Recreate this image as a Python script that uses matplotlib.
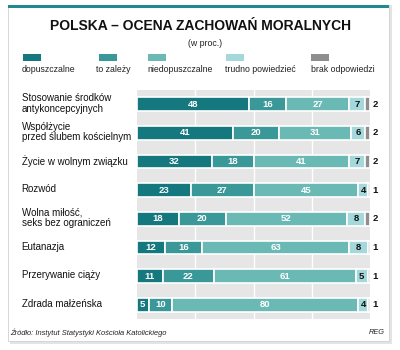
import matplotlib
matplotlib.use("Agg")
import matplotlib.pyplot as plt
from matplotlib.patches import Rectangle

categories = ["Stosowanie środków\nantykoncepcyjnych",
              "Współżycie\nprzed ślubem kościelnym",
              "Życie w wolnym związku",
              "Rozwód",
              "Wolna miłość,\nseks bez ograniczeń",
              "Eutanazja",
              "Przerywanie ciąży",
              "Zdrada małżeńska"]
series_names = ["dopuszczalne", "to zależy", "niedopuszczalne", "trudno powiedzieć", "brak odpowiedzi"]
dopuszczalne = [48, 41, 32, 23, 18, 12, 11, 5]
to_zalezy = [16, 20, 18, 27, 20, 16, 22, 10]
niedopuszczalne = [27, 31, 41, 45, 52, 63, 61, 80]
trudno = [7, 6, 7, 4, 8, 8, 5, 4]
brak = [2, 2, 2, 1, 2, 1, 1, 1]
series = [dopuszczalne, to_zalezy, niedopuszczalne, trudno, brak]
colors = ["#16787f", "#3a9899", "#6ab9b5", "#a5d8da", "#8e8e8e"]
text_colors = ["white", "white", "white", "#111111", "#111111"]

W, H = 400, 350
plt.rcParams['font.family'] = ["Liberation Sans", "DejaVu Sans"]

fig = plt.figure(figsize=(4, 3.5), dpi=100)
fig.patch.set_facecolor("white")

def fx(x): return x / W
def fy(y): return 1 - y / H

# panel shadow and panel
fig.patches.append(Rectangle((fx(10), fy(344)), fx(382), 339 / H, transform=fig.transFigure,
                             facecolor="#e4e4e4", edgecolor="none", zorder=-2))
fig.patches.append(Rectangle((fx(8), fy(341)), fx(381), 336 / H, transform=fig.transFigure,
                             facecolor="white", edgecolor="#d0d0d0", linewidth=0.6, zorder=-1))
fig.patches.append(Rectangle((fx(8), fy(8)), fx(381), 3 / H, transform=fig.transFigure,
                             facecolor="#1f8a8f", edgecolor="none", zorder=1))

fig.text(fx(200), fy(26), "POLSKA – OCENA ZACHOWAŃ MORALNYCH", ha="center", va="center",
         fontsize=10, fontweight="bold", color="#111111")
fig.text(fx(205), fy(43), "(w proc.)", ha="center", va="center", fontsize=6.3, color="#222222")

# legend
sw_x = [23, 99, 148, 226, 311]
lab_x = [22, 96, 147, 225, 311]
for sx, lx, name, c in zip(sw_x, lab_x, series_names, colors):
    fig.patches.append(Rectangle((fx(sx), fy(61)), fx(18), 7 / H, transform=fig.transFigure,
                                 facecolor=c, edgecolor="none", zorder=2))
    fig.text(fx(lx), fy(69), name, ha="left", va="center", fontsize=6.3, color="#222222")

ax = fig.add_axes([fx(137), fy(319), fx(370 - 137), (319 - 90) / H])
ax.set_zorder(3)
ax.set_facecolor("#e6e6e6")
ax.set_xlim(0, 100)
ax.set_ylim(7.5, -0.5)
for g in [25, 50, 75]:
    ax.axvline(g, color="white", linewidth=1.0, zorder=1)
for s in ax.spines.values():
    s.set_visible(False)
ax.set_xticks([])
ax.set_yticks([])

ypos = list(range(len(categories)))
left = [0] * len(categories)
for k, (vals, c, tc) in enumerate(zip(series, colors, text_colors)):
    ax.barh(ypos, vals, left=left, height=0.48, color=c, edgecolor="white", linewidth=1.2, zorder=2)
    for i, v in enumerate(vals):
        if k < 4:
            ax.text(left[i] + v / 2, i, str(v), ha="center", va="center", fontsize=6.8,
                    fontweight="bold", color=tc, zorder=3)
        else:
            ax.text(101.2, i, str(v), ha="left", va="center", fontsize=6.8,
                    fontweight="bold", color=tc, zorder=3, clip_on=False)
    left = [l + v for l, v in zip(left, vals)]

for i, cat in enumerate(categories):
    ax.text(-49.5, i - 0.03, cat, ha="left", va="center", fontsize=7.0, color="#111111",
            linespacing=1.05, clip_on=False)

fig.text(fx(10), fy(333), "Źródło: Instytut Statystyki Kościoła Katolickiego", ha="left", va="center",
         fontsize=5.4, style="italic", color="#222222")
fig.text(fx(385), fy(333), "REG", ha="right", va="center", fontsize=5.3, style="italic", color="#222222")

fig.savefig("out.png", dpi=100, facecolor="white")
